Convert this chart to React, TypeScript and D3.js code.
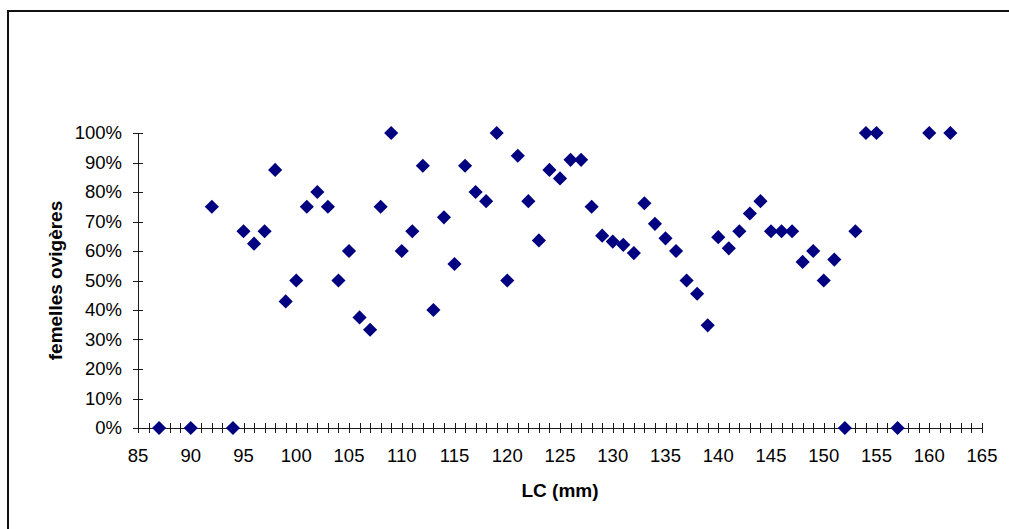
import React from "react";
import * as d3 from "d3";

const lcValues: number[] = [
  87, 90, 92, 94, 95, 96, 97, 98, 99, 100, 101, 102, 103, 104, 105, 106, 107, 108, 109, 110,
  111, 112, 113, 114, 115, 116, 117, 118, 119, 120, 121, 122, 123, 124, 125, 126, 127, 128, 129, 130,
  131, 132, 133, 134, 135, 136, 137, 138, 139, 140, 141, 142, 143, 144, 145, 146, 147, 148, 149, 150,
  151, 152, 153, 154, 155, 157, 160, 162,
];
const ovigerousShare: number[] = [
  0, 0, 0.75, 0, 0.667, 0.625, 0.667, 0.875, 0.429, 0.5, 0.75, 0.8, 0.75, 0.5, 0.6, 0.375, 0.333, 0.75, 1, 0.6,
  0.667, 0.889, 0.4, 0.714, 0.556, 0.889, 0.8, 0.769, 1, 0.5, 0.923, 0.769, 0.636, 0.875, 0.846, 0.909, 0.909, 0.75, 0.652, 0.632,
  0.621, 0.593, 0.762, 0.692, 0.643, 0.6, 0.5, 0.455, 0.348, 0.647, 0.609, 0.667, 0.727, 0.769, 0.667, 0.667, 0.667, 0.563, 0.6, 0.5,
  0.571, 0, 0.667, 1, 1, 0, 1, 1,
];
const xMajorTicks: number[] = [85, 90, 95, 100, 105, 110, 115, 120, 125, 130, 135, 140, 145, 150, 155, 160, 165];
const yTicks: number[] = [0, 0.1, 0.2, 0.3, 0.4, 0.5, 0.6, 0.7, 0.8, 0.9, 1];
const xTitle = "LC (mm)";
const yTitle = "femelles ovigères";

const W = 1009;
const H = 529;
const FONT = "'Liberation Sans', Arial, sans-serif";

export default function App() {
  const x = d3.scaleLinear().domain([85, 165]).range([138, 982]);
  const y = d3.scaleLinear().domain([0, 1]).range([428, 133]);
  const minorTicks = d3.range(85, 166, 1);
  const diamond = d3.symbol().type(d3.symbolSquare).size(100)();
  const fmt = d3.format(".0%");
  const axisColor = "#1a1a1a";

  return (
    <svg
      width={W}
      height={H}
      style={{ position: "absolute", left: 0, top: 0, background: "#fff", fontFamily: FONT }}
    >
      <rect x={0} y={0} width={W} height={H} fill="#fff" />
      <rect x={8} y={11} width={1200} height={700} fill="none" stroke="#111" strokeWidth={2} />

      {/* y axis */}
      <line x1={x(85) + 0.5} x2={x(85) + 0.5} y1={y(1)} y2={y(0)} stroke={axisColor} strokeWidth={1} />
      {yTicks.map((t) => (
        <g key={"yt" + t}>
          <line
            x1={x(85) - 5}
            x2={x(85) + 5}
            y1={Math.round(y(t)) + 0.5}
            y2={Math.round(y(t)) + 0.5}
            stroke={axisColor}
            strokeWidth={1}
          />
          <text x={122} y={y(t)} dy="0.35em" textAnchor="end" fontSize={18.5} fill="#000">
            {fmt(t)}
          </text>
        </g>
      ))}

      {/* x axis */}
      <line x1={x(85)} x2={x(165)} y1={Math.round(y(0)) + 0.5} y2={Math.round(y(0)) + 0.5} stroke={axisColor} strokeWidth={1} />
      {minorTicks.map((t) => (
        <line
          key={"xm" + t}
          x1={Math.round(x(t)) + 0.5}
          x2={Math.round(x(t)) + 0.5}
          y1={y(0) - 5}
          y2={y(0) + 5}
          stroke={axisColor}
          strokeWidth={1}
        />
      ))}
      {xMajorTicks.map((t) => (
        <text key={"xl" + t} x={x(t)} y={462} textAnchor="middle" fontSize={18.5} fill="#000">
          {t}
        </text>
      ))}

      {/* titles */}
      <text x={(x(85) + x(165)) / 2} y={497} textAnchor="middle" fontSize={19} fontWeight="bold" fill="#000">
        {xTitle}
      </text>
      <text
        transform={`translate(62,${(y(0) + y(1)) / 2}) rotate(-90)`}
        textAnchor="middle"
        fontSize={19}
        fontWeight="bold"
        fill="#000"
      >
        {yTitle}
      </text>

      {/* points */}
      {lcValues.map((v, i) => (
        <path
          key={"p" + i}
          d={diamond || ""}
          transform={`translate(${x(v)},${y(ovigerousShare[i])}) rotate(45)`}
          fill="#000080"
        />
      ))}
    </svg>
  );
}
